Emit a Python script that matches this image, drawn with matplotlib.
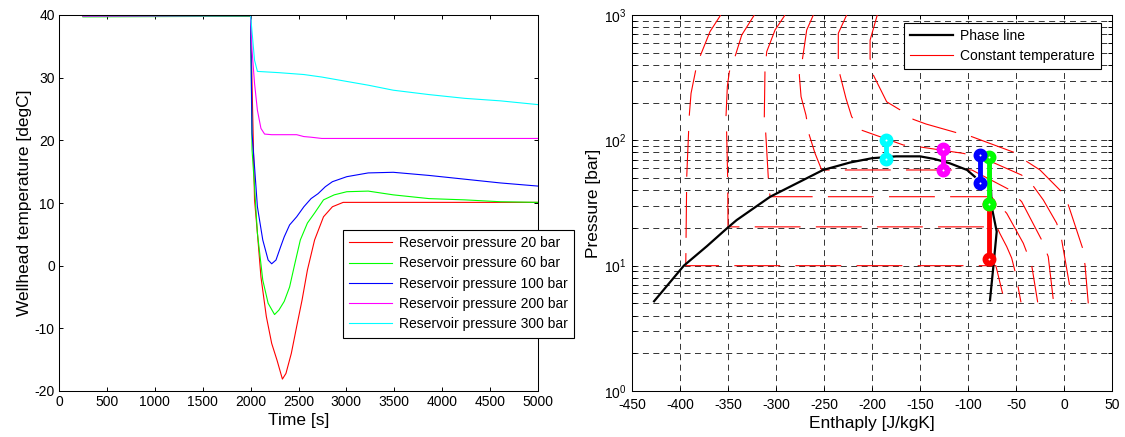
import numpy as np
import matplotlib
matplotlib.use("Agg")
import matplotlib.pyplot as plt
from matplotlib.ticker import MultipleLocator, LogLocator

plt.rcParams['font.family'] = ['Liberation Sans', 'DejaVu Sans']
plt.rcParams['lines.scale_dashes'] = False
plt.rcParams['axes.linewidth'] = 0.75
plt.rcParams['axes.unicode_minus'] = False

# ---- wellhead temperature vs time, one series per reservoir pressure ----
t_20 = [250, 2000, 2041, 2071, 2108, 2164, 2220, 2276, 2332, 2369, 2425, 2481,
        2537, 2593, 2668, 2761, 2854, 2966, 5000]
T_20 = [39.8, 39.8, 10.5, 5.2, -1.8, -8.1, -12.4, -15.1, -18.1, -17.2, -14.0, -9.7,
        -5.5, -0.7, 4.1, 7.8, 9.4, 10.1, 10.1]

t_60 = [250, 2000, 2015, 2041, 2071, 2127, 2183, 2250, 2295, 2351, 2407, 2463, 2519,
        2593, 2668, 2761, 2873, 3004, 3228, 3489, 3862, 4235, 4608, 5000]
T_60 = [39.7, 39.8, 18.5, 12.6, 5.2, -2.3, -6.0, -7.8, -7.1, -5.7, -3.4, 0.4, 4.1,
        6.8, 8.4, 10.5, 11.3, 11.8, 11.9, 11.3, 10.7, 10.5, 10.2, 10.1]

t_100 = [250, 2000, 2015, 2041, 2071, 2127, 2183, 2220, 2265, 2313, 2351, 2407, 2481,
         2556, 2631, 2705, 2780, 2854, 3004, 3228, 3489, 3862, 4235, 4608, 5000]
T_100 = [39.9, 39.9, 21.1, 15.8, 9.4, 4.1, 0.9, 0.3, 0.9, 3.0, 4.6, 6.5, 7.8,
         9.4, 10.7, 11.5, 12.6, 13.4, 14.2, 14.8, 14.9, 14.4, 13.8, 13.2, 12.7]

t_200 = [250, 2000, 2015, 2041, 2071, 2108, 2146, 2220, 2481, 2556, 2631, 2743, 5000]
T_200 = [39.8, 39.9, 34.4, 29.1, 24.8, 21.9, 21.0, 20.9, 20.9, 20.6, 20.5, 20.3, 20.3]

t_300 = [250, 2000, 2041, 2071, 2295, 2556, 2743, 2966, 3228, 3489, 3862, 4235, 4608, 5000]
T_300 = [39.9, 39.9, 32.8, 31.0, 30.8, 30.5, 30.1, 29.5, 28.8, 28.0, 27.3, 26.7, 26.3, 25.7]

series_labels = ['Reservoir pressure 20 bar', 'Reservoir pressure 60 bar',
                 'Reservoir pressure 100 bar', 'Reservoir pressure 200 bar',
                 'Reservoir pressure 300 bar']
series_colors = ['#ff0000', '#00ff00', '#0000ff', '#ff00ff', '#00ffff']

# ---- CO2 phase envelope (enthalpy, pressure) ----
phase_h = [-427, -396, -372, -350, -341, -306, -275, -251, -223, -200, -175, -150,
           -135, -119, -101, -93, np.nan, -77, -76.5, -75.3, -70.1, -73.5, -77.1]
phase_p = [5.2, 10, 14.3, 20.2, 23.1, 35.5, 46.8, 58, 66.5, 72, 74.5, 74.5,
           71, 65.6, 58, 51.3, np.nan, 70, 50, 29.5, 18.7, 10, 5.3]

# ---- isotherms, -40 .. 60 degC ----
iso_m40_h = [-357.6, -368.8, -378.5, -383.6, -388.5, -390.3, -391, -393, -394, -71, -63]
iso_m40_p = [1000, 736, 480, 364, 237, 159, 119, 51, 10, 10, 5.6]

iso_m20_h = [-322.6, -335.7, -342.7, -348.6, -350.7, -352.1, -351.4, -350.3, -350,
             -70, -66.7, -59.7, -54.5, -50, -46.9, -44.8]
iso_m20_p = [1000, 692, 465, 353, 268, 154, 114, 48, 20.4,
             20.4, 18, 14.2, 11.5, 8.4, 6.2, 5.1]

iso_0_h = [-290.6, -301, -309.7, -311.5, -312.2, -310.7, -308, -306.2, -76,
           -59.7, -42.4, -33.7, -27.4]
iso_0_p = [1000, 759, 509, 353, 150, 114, 50, 35.5, 35.5, 26.2, 15.1, 10.1, 5.1]

iso_20_h = [-261.1, -268, -272.6, -275.7, -273.9, -268.8, -265.3, -259.4, -252.4,
            -96, -56.3, -44.1, -23.2, -16.4, -11.1]
iso_20_p = [1000, 759, 437, 332, 223, 159, 110, 79, 58, 58, 40.2, 32.4, 16, 11.8, 5.3]

iso_40_h = [-226.4, -235.1, -235.1, -233.3, -227.1, -221.2, -211.5, -167.4, -151.8,
            -104.9, -84, -44.1, -32.8, -21.5, -7.6, -2.4, 5.5, 8]
iso_40_p = [1000, 714, 451, 332, 216, 154.5, 121, 91.8, 89, 78.7, 72, 52.8, 44,
            33.4, 21.8, 16, 7.2, 5.2]

iso_60_h = [-194.5, -202, -202, -198.6, -184.7, -170.8, -157, -143.8, -111.8, -96.1,
            -51, -44.1, -25, -2.7, 4.5, 19.5, 21.9, 25.3]
iso_60_p = [1000, 630, 450, 332, 203, 175, 147, 135, 115, 107, 79.6, 72, 58, 39,
            30.5, 13.7, 10.1, 5]

isotherms = [(iso_m40_h, iso_m40_p), (iso_m20_h, iso_m20_p), (iso_0_h, iso_0_p),
             (iso_20_h, iso_20_p), (iso_40_h, iso_40_p), (iso_60_h, iso_60_p)]

# ---- wellhead states, start/end per case ----
state_h = [[-78, -78], [-78, -78], [-87.5, -87.5], [-125.7, -125.7], [-185, -185]]
state_p = [[31, 11.3], [73, 31], [77, 46], [86, 58], [100, 71]]


fig = plt.figure(figsize=(11.25, 4.37), dpi=100)
ax1 = fig.add_axes([59 / 1125, 1 - 391 / 437, 479 / 1125, 376 / 437])
ax2 = fig.add_axes([632 / 1125, 1 - 391 / 437, 480 / 1125, 376 / 437])

# left: temperature history
series = [(t_20, T_20), (t_60, T_60), (t_100, T_100), (t_200, T_200), (t_300, T_300)]
for (t, T), lab, col in zip(series, series_labels, series_colors):
    ax1.plot(t, T, color=col, lw=0.8, label=lab)

ax1.set_xlim(0, 5000)
ax1.set_ylim(-20, 40)
ax1.xaxis.set_major_locator(MultipleLocator(500))
ax1.yaxis.set_major_locator(MultipleLocator(10))
ax1.set_xlabel('Time [s]', fontsize=12.5, labelpad=3)
ax1.set_ylabel('Wellhead temperature [degC]', fontsize=12.5, labelpad=2)

leg1 = ax1.legend(loc='upper left', bbox_to_anchor=(342.5 / 1125, 1 - 230 / 437),
                  bbox_transform=fig.transFigure, borderaxespad=0, fontsize=10,
                  fancybox=False, framealpha=1, edgecolor='black',
                  handlelength=3.1, handletextpad=0.5, labelspacing=0.45,
                  borderpad=0.45)
leg1.get_frame().set_linewidth(0.8)

# right: phase diagram
for (h, p) in isotherms:
    ax2.plot(h, p, color='#ff0000', lw=0.8, linestyle=(0, (33, 11)), zorder=3)
ax2.plot(phase_h, phase_p, color='black', lw=1.6, zorder=3)

for (h, p), col in zip(zip(state_h, state_p), series_colors):
    ax2.plot(h, p, color=col, lw=3.5, marker='o', ms=5.8, mew=4.2,
             mfc='white', mec=col, zorder=4)

# legend proxies
ax2.plot([], [], color='black', lw=1.6, label='Phase line')
ax2.plot([], [], color='#ff0000', lw=0.8, label='Constant temperature')

ax2.set_yscale('log')
ax2.set_xlim(-450, 50)
ax2.set_ylim(1, 1000)
ax2.xaxis.set_major_locator(MultipleLocator(50))
ax2.yaxis.set_major_locator(LogLocator(base=10, numticks=10))
ax2.yaxis.set_minor_locator(LogLocator(base=10, subs=np.arange(2, 10), numticks=20))
ax2.grid(True, which='major', color='0.2', lw=0.7, linestyle=(0, (4.3, 3.2)))
ax2.yaxis.grid(True, which='minor', color='0.2', lw=0.7, linestyle=(0, (4.3, 3.2)))
ax2.set_axisbelow(True)
ax2.set_xlabel('Enthaply [J/kgK]', fontsize=12.5, labelpad=3)
ax2.set_ylabel('Pressure [bar]', fontsize=12.5, labelpad=2)

handles, labels = ax2.get_legend_handles_labels()
leg2 = ax2.legend(handles[-2:], labels[-2:], loc='upper left',
                  bbox_to_anchor=(904 / 1125, 1 - 22.7 / 437),
                  bbox_transform=fig.transFigure, borderaxespad=0, fontsize=10,
                  fancybox=False, framealpha=1, edgecolor='black',
                  handlelength=3.1, handletextpad=0.5, labelspacing=0.45,
                  borderpad=0.45)
leg2.get_frame().set_linewidth(0.8)
leg2.set_zorder(10)

for ax in (ax1, ax2):
    ax.tick_params(which='both', direction='in', top=True, right=True,
                   length=3, width=0.7, labelsize=10, pad=3)
    for s in ax.spines.values():
        s.set_color('black')
ax2.tick_params(axis='x', pad=5)
ax2.tick_params(axis='y', pad=4)

fig.savefig('out.png', dpi=100, facecolor='white')
